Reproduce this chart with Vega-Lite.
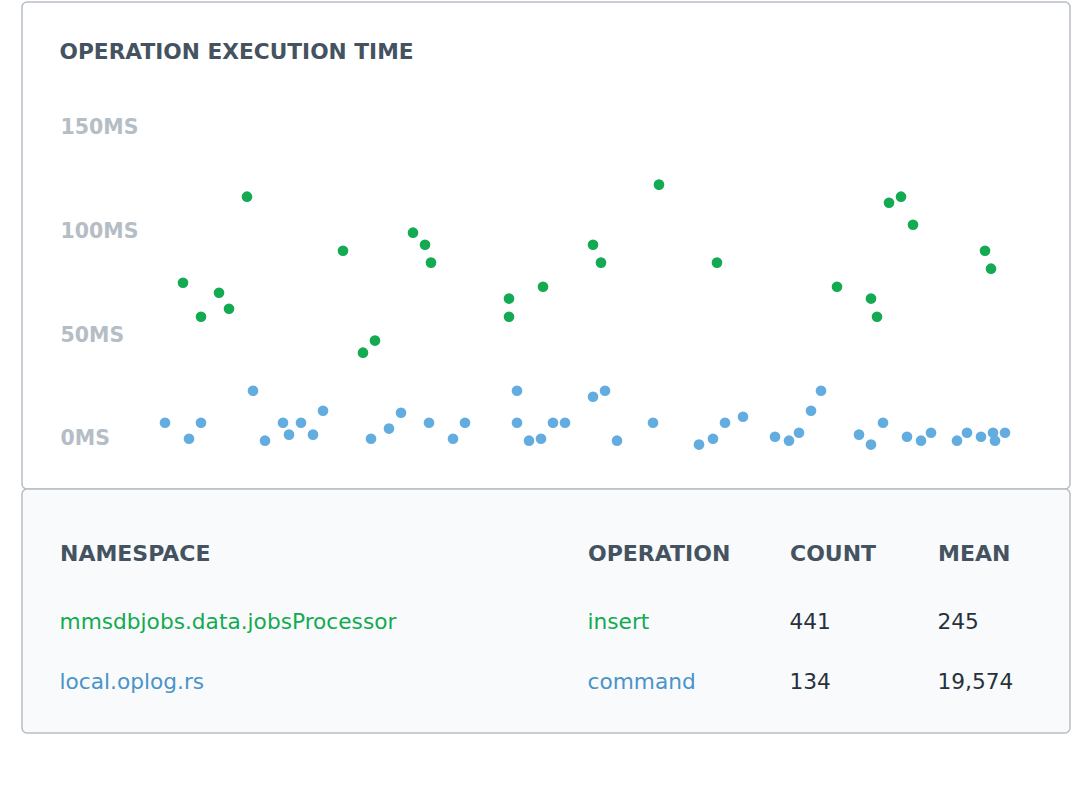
{
  "$schema": "https://vega.github.io/schema/vega-lite/v6.json",
  "background": "white",
  "padding": {"left": 21, "top": 1, "right": 0, "bottom": 0},
  "spacing": 0,
  "bounds": "flush",
  "resolve": {"scale": {"color": "independent", "x": "independent", "y": "independent"}},
  "config": {
    "view": {"stroke": "#b6bec6", "strokeWidth": 1.5},
    "font": "DejaVu Sans"
  },
  "datasets": {
    "points": [
      {"t": 80, "ms": 75.1, "op": "insert"},
      {"t": 89, "ms": 58.8, "op": "insert"},
      {"t": 98, "ms": 70.3, "op": "insert"},
      {"t": 103, "ms": 62.6, "op": "insert"},
      {"t": 112, "ms": 116.5, "op": "insert"},
      {"t": 160, "ms": 90.5, "op": "insert"},
      {"t": 170, "ms": 41.5, "op": "insert"},
      {"t": 176, "ms": 47.3, "op": "insert"},
      {"t": 195, "ms": 99.2, "op": "insert"},
      {"t": 201, "ms": 93.4, "op": "insert"},
      {"t": 204, "ms": 84.8, "op": "insert"},
      {"t": 243, "ms": 67.5, "op": "insert"},
      {"t": 243, "ms": 58.8, "op": "insert"},
      {"t": 260, "ms": 73.2, "op": "insert"},
      {"t": 285, "ms": 93.4, "op": "insert"},
      {"t": 289, "ms": 84.8, "op": "insert"},
      {"t": 318, "ms": 122.3, "op": "insert"},
      {"t": 347, "ms": 84.8, "op": "insert"},
      {"t": 407, "ms": 73.2, "op": "insert"},
      {"t": 424, "ms": 67.5, "op": "insert"},
      {"t": 427, "ms": 58.8, "op": "insert"},
      {"t": 433, "ms": 113.6, "op": "insert"},
      {"t": 439, "ms": 116.5, "op": "insert"},
      {"t": 445, "ms": 103.0, "op": "insert"},
      {"t": 481, "ms": 90.5, "op": "insert"},
      {"t": 484, "ms": 81.9, "op": "insert"},
      {"t": 71, "ms": 7.8, "op": "command"},
      {"t": 83, "ms": 0.1, "op": "command"},
      {"t": 89, "ms": 7.8, "op": "command"},
      {"t": 115, "ms": 23.2, "op": "command"},
      {"t": 121, "ms": -0.8, "op": "command"},
      {"t": 130, "ms": 7.8, "op": "command"},
      {"t": 133, "ms": 2.1, "op": "command"},
      {"t": 139, "ms": 7.8, "op": "command"},
      {"t": 145, "ms": 2.1, "op": "command"},
      {"t": 150, "ms": 13.6, "op": "command"},
      {"t": 174, "ms": 0.1, "op": "command"},
      {"t": 183, "ms": 5.0, "op": "command"},
      {"t": 189, "ms": 12.6, "op": "command"},
      {"t": 203, "ms": 7.8, "op": "command"},
      {"t": 215, "ms": 0.1, "op": "command"},
      {"t": 221, "ms": 7.8, "op": "command"},
      {"t": 247, "ms": 23.2, "op": "command"},
      {"t": 247, "ms": 7.8, "op": "command"},
      {"t": 253, "ms": -0.8, "op": "command"},
      {"t": 259, "ms": 0.1, "op": "command"},
      {"t": 265, "ms": 7.8, "op": "command"},
      {"t": 271, "ms": 7.8, "op": "command"},
      {"t": 285, "ms": 20.3, "op": "command"},
      {"t": 291, "ms": 23.2, "op": "command"},
      {"t": 297, "ms": -0.8, "op": "command"},
      {"t": 315, "ms": 7.8, "op": "command"},
      {"t": 338, "ms": -2.7, "op": "command"},
      {"t": 345, "ms": 0.1, "op": "command"},
      {"t": 351, "ms": 7.8, "op": "command"},
      {"t": 360, "ms": 10.7, "op": "command"},
      {"t": 376, "ms": 1.1, "op": "command"},
      {"t": 383, "ms": -0.8, "op": "command"},
      {"t": 388, "ms": 3.0, "op": "command"},
      {"t": 394, "ms": 13.6, "op": "command"},
      {"t": 399, "ms": 23.2, "op": "command"},
      {"t": 418, "ms": 2.1, "op": "command"},
      {"t": 424, "ms": -2.7, "op": "command"},
      {"t": 430, "ms": 7.8, "op": "command"},
      {"t": 442, "ms": 1.1, "op": "command"},
      {"t": 449, "ms": -0.8, "op": "command"},
      {"t": 454, "ms": 3.0, "op": "command"},
      {"t": 467, "ms": -0.8, "op": "command"},
      {"t": 472, "ms": 3.0, "op": "command"},
      {"t": 479, "ms": 1.1, "op": "command"},
      {"t": 485, "ms": 3.0, "op": "command"},
      {"t": 486, "ms": -0.8, "op": "command"},
      {"t": 491, "ms": 3.0, "op": "command"}
    ],
    "table": [
      {"row": 1, "col": 0, "text": "mmsdbjobs.data.jobsProcessor", "tone": "insert"},
      {"row": 1, "col": 1, "text": "insert", "tone": "insert"},
      {"row": 1, "col": 2, "text": "441", "tone": "plain"},
      {"row": 1, "col": 3, "text": "245", "tone": "plain"},
      {"row": 2, "col": 0, "text": "local.oplog.rs", "tone": "command"},
      {"row": 2, "col": 1, "text": "command", "tone": "command"},
      {"row": 2, "col": 2, "text": "134", "tone": "plain"},
      {"row": 2, "col": 3, "text": "19,574", "tone": "plain"}
    ]
  },
  "vconcat": [
    {
      "title": {
        "text": "OPERATION EXECUTION TIME",
        "anchor": "start",
        "frame": "group",
        "orient": "top",
        "offset": -79,
        "dx": 37.5,
        "baseline": "alphabetic",
        "font": "DejaVu Sans",
        "fontSize": 21.7,
        "fontWeight": "bold",
        "color": "#44535f"
      },
      "width": 1048,
      "height": 487,
      "view": {"fill": "white", "cornerRadius": 5},
      "data": {"name": "points"},
      "mark": {"type": "circle", "size": 113, "opacity": 1},
      "encoding": {
        "x": {
          "field": "t",
          "type": "quantitative",
          "scale": {"domain": [-0.5, 523.5], "nice": false, "zero": false},
          "axis": null
        },
        "y": {
          "field": "ms",
          "type": "quantitative",
          "scale": {"domain": [-24.04, 210.1], "nice": false, "zero": false},
          "axis": {
            "orient": "left",
            "values": [0, 50, 100, 150],
            "labelExpr": "datum.value + 'MS'",
            "labelAlign": "left",
            "labelBaseline": "middle",
            "labelPadding": -38,
            "ticks": false,
            "tickSize": 0,
            "domain": false,
            "grid": false,
            "title": null,
            "labelFont": "DejaVu Sans",
            "labelFontWeight": "bold",
            "labelFontSize": 20.5,
            "labelColor": "#b5bdc5"
          }
        },
        "color": {
          "field": "op",
          "type": "nominal",
          "scale": {"domain": ["insert", "command"], "range": ["#13aa52", "#62acdf"]},
          "legend": null
        }
      }
    },
    {
      "width": 1048,
      "height": 244,
      "view": {"fill": "#f9fafc", "cornerRadius": 5},
      "data": {"name": "table"},
      "mark": {"type": "text", "align": "left", "baseline": "middle", "font": "DejaVu Sans", "fontSize": 21.7},
      "encoding": {
        "x": {
          "field": "col",
          "type": "quantitative",
          "scale": {"domain": [0, 1, 2, 3], "range": [37.5, 565.5, 767.5, 915.5], "nice": false, "zero": false},
          "axis": {
            "orient": "top",
            "values": [0, 1, 2, 3],
            "labelExpr": "['NAMESPACE', 'OPERATION', 'COUNT', 'MEAN'][datum.value]",
            "labelAlign": "left",
            "labelBaseline": "middle",
            "labelAngle": 0,
            "labelPadding": -64,
            "labelFlush": false,
            "labelOverlap": false,
            "ticks": false,
            "tickSize": 0,
            "domain": false,
            "grid": false,
            "title": null,
            "labelFont": "DejaVu Sans",
            "labelFontWeight": "bold",
            "labelFontSize": 22,
            "labelColor": "#44535f"
          }
        },
        "y": {
          "field": "row",
          "type": "quantitative",
          "scale": {"domain": [1, 2], "range": [133, 193], "nice": false, "zero": false},
          "axis": null
        },
        "text": {"field": "text"},
        "color": {
          "field": "tone",
          "type": "nominal",
          "scale": {"domain": ["insert", "command", "plain"], "range": ["#13aa52", "#4a94c8", "#27313b"]},
          "legend": null
        }
      }
    }
  ]
}
